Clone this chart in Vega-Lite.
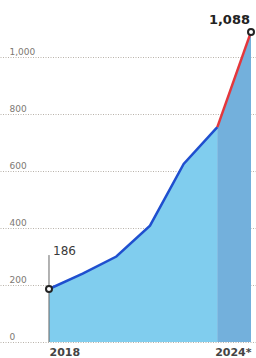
{
  "$schema": "https://vega.github.io/schema/vega-lite/v6.json",
  "width": 256,
  "height": 358,
  "padding": 0,
  "autosize": "none",
  "background": "white",
  "config": {"view": {"stroke": null}, "font": "DejaVu Sans"},
  "datasets": {
    "actual": [
      {"year": 2018, "value": 186},
      {"year": 2019, "value": 240},
      {"year": 2020, "value": 300},
      {"year": 2021, "value": 408},
      {"year": 2022, "value": 625},
      {"year": 2023, "value": 754}
    ],
    "forecast": [
      {"year": 2023, "value": 754},
      {"year": 2024, "value": 1088}
    ],
    "endpoints": [
      {"year": 2018, "value": 186, "label": "186"},
      {"year": 2024, "value": 1088, "label": "1,088"}
    ],
    "marker": [
      {"year": 2018, "value": 305}
    ]
  },
  "layer": [
    {
      "data": {"name": "actual"},
      "mark": {"type": "area", "color": "#80cdee"},
      "encoding": {
        "x": {"field": "year", "type": "quantitative",
          "scale": {"domain": [2016.5446, 2024.1485], "range": [0, 256], "nice": false, "zero": false},
          "axis": {
            "values": [2018, 2024],
            "labelExpr": "datum.value == 2024 ? '2024*' : '2018'",
            "labelAlign": {"condition": {"test": "datum.value == 2024", "value": "right"}, "value": "left"},
            "labelFont": "DejaVu Sans", "labelFontWeight": "bold", "labelFontSize": 11, "labelColor": "#444",
            "labelPadding": 4, "ticks": false, "grid": false, "offset": -16,
            "domain": false, "title": null
          }},
        "y": {"field": "value", "type": "quantitative",
          "scale": {"domain": [0, 1000], "range": [342, 57], "nice": false, "zero": true},
          "axis": {
            "values": [0, 200, 400, 600, 800, 1000],
            "format": ",d",
            "ticks": false, "domain": false,
            "labelAlign": "left", "labelBaseline": "alphabetic",
            "labelPadding": -9, "labelOffset": -2.5,
            "labelFontSize": 9, "labelColor": "#7d7873", "labelFont": "DejaVu Sans",
            "grid": true, "gridColor": "#b8b2aa", "gridDash": [1, 1.5], "gridWidth": 1,
            "title": null
          }}
      }
    },
    {
      "data": {"name": "forecast"},
      "mark": {"type": "area", "color": "#80cdee"},
      "encoding": {
        "x": {"field": "year", "type": "quantitative"},
        "y": {"field": "value", "type": "quantitative"}
      }
    },
    {
      "data": {"name": "forecast"},
      "mark": {"type": "area", "color": "#6fa6d6", "opacity": 0.75},
      "encoding": {
        "x": {"field": "year", "type": "quantitative"},
        "y": {"field": "value", "type": "quantitative"}
      }
    },
    {
      "mark": {"type": "rule", "color": "#2d2d2d", "strokeWidth": 1.5},
      "encoding": {
        "y": {"datum": 0, "type": "quantitative"},
        "x": {"value": 9},
        "x2": {"value": 256}
      }
    },
    {
      "data": {"name": "marker"},
      "mark": {"type": "rule", "color": "#666", "strokeWidth": 1},
      "encoding": {
        "x": {"field": "year", "type": "quantitative"},
        "y": {"field": "value", "type": "quantitative"},
        "y2": {"datum": 0}
      }
    },
    {
      "data": {"name": "actual"},
      "mark": {"type": "line", "color": "#1f4fcf", "strokeWidth": 2.5},
      "encoding": {
        "x": {"field": "year", "type": "quantitative"},
        "y": {"field": "value", "type": "quantitative"}
      }
    },
    {
      "data": {"name": "forecast"},
      "mark": {"type": "line", "color": "#e4373c", "strokeWidth": 2.5},
      "encoding": {
        "x": {"field": "year", "type": "quantitative"},
        "y": {"field": "value", "type": "quantitative"}
      }
    },
    {
      "data": {"name": "endpoints"},
      "mark": {"type": "point", "shape": "circle", "filled": false, "fill": "white", "stroke": "#222", "strokeWidth": 2, "size": 36, "opacity": 1},
      "encoding": {
        "x": {"field": "year", "type": "quantitative"},
        "y": {"field": "value", "type": "quantitative"}
      }
    },
    {
      "data": {"name": "endpoints"},
      "transform": [{"filter": "datum.year == 2018"}],
      "mark": {"type": "text", "baseline": "alphabetic", "align": "left", "dx": 4, "dy": -34, "fontSize": 12, "color": "#3a3a3a", "font": "DejaVu Sans"},
      "encoding": {
        "x": {"field": "year", "type": "quantitative"},
        "y": {"field": "value", "type": "quantitative"},
        "text": {"field": "label"}
      }
    },
    {
      "data": {"name": "endpoints"},
      "transform": [{"filter": "datum.year == 2024"}],
      "mark": {"type": "text", "baseline": "alphabetic", "align": "right", "dx": -1, "dy": -8, "fontSize": 13, "fontWeight": "bold", "color": "#222", "font": "DejaVu Sans"},
      "encoding": {
        "x": {"field": "year", "type": "quantitative"},
        "y": {"field": "value", "type": "quantitative"},
        "text": {"field": "label"}
      }
    }
  ]
}
